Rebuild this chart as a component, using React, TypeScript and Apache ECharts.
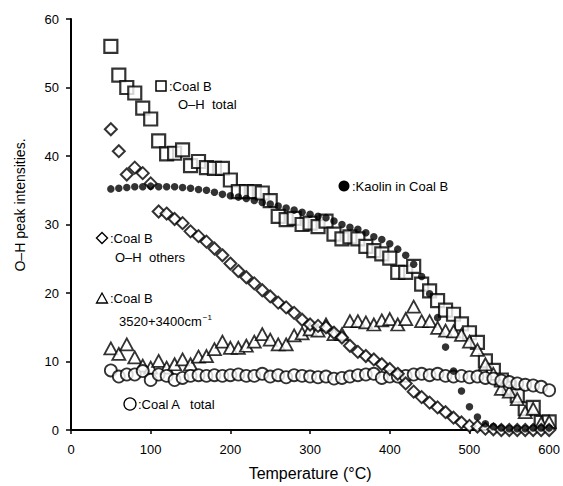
import React, { useEffect, useRef } from "react";
import * as echarts from "echarts";

const temps = [50, 60, 70, 80, 90, 100, 110, 120, 130, 140, 150, 160, 170, 180, 190, 200, 210, 220, 230, 240, 250, 260, 270, 280, 290, 300, 310, 320, 330, 340, 350, 360, 370, 380, 390, 400, 410, 420, 430, 440, 450, 460, 470, 480, 490, 500, 510, 520, 530, 540, 550, 560, 570, 580, 590, 600];

const coalBTotal = [56, 51.8, 50, 49.2, 47, 45.4, 42.2, 40.3, 40.4, 40.9, 38.6, 39.2, 38.3, 38.2, 38.2, 36.5, 34.8, 34.8, 34.8, 34.6, 33.5, 31.2, 30.7, 30.9, 30.0, 30.2, 29.7, 30.5, 28.6, 27.9, 28.2, 27.9, 26.8, 26.2, 25.7, 25.1, 23.0, 23.0, 23.9, 21.3, 20.3, 18.9, 17.5, 16.9, 15.5, 14.2, 12.8, 10.1, 8.7, 7.3, 6.1, 5.0, 3.1, 3.3, 1.1, 1.2];

const coalBOthers = [43.9, 40.7, 37.3, 38.3, 37.5, 36.0, 31.9, 31.6, 30.8, 30.2, 29.0, 28.3, 27.5, 26.5, 25.5, 24.3, 23.2, 22.3, 21.4, 20.4, 19.5, 18.6, 17.9, 17.1, 16.1, 15.4, 15.2, 15.0, 14.2, 13.5, 12.3, 11.4, 10.8, 10.3, 9.6, 8.9, 8.2, 6.8, 5.6, 4.8, 4.0, 3.3, 2.6, 1.8, 1.1, 0.6, 0.5, 0.2, 0.1, 0, 0, 0, 0, 0, 0, 0];

const coalB3520 = [11.9, 11.1, 12.5, 10.6, 9.4, 9.1, 10.1, 9.1, 9.6, 10.3, 9.6, 10.7, 10.8, 11.8, 12.9, 12.0, 12.0, 12.3, 12.9, 14.0, 13.2, 12.5, 12.5, 13.8, 14.1, 14.7, 14.5, 15.4, 14.0, 14.0, 15.9, 15.9, 15.7, 15.4, 16.0, 16.2, 15.4, 16.2, 18.0, 15.9, 15.9, 14.9, 14.5, 14.4, 13.9, 12.9, 11.7, 9.6, 8.2, 6.0, 5.6, 4.5, 2.6, 3.1, 1.0, 1.2];

const coalATotal = [8.7, 7.8, 8.1, 8.1, 8.6, 7.3, 8.1, 7.9, 7.3, 7.6, 7.9, 8.0, 7.9, 8.0, 7.9, 8.0, 8.1, 7.9, 7.9, 8.2, 7.8, 8.0, 7.7, 8.0, 7.9, 7.8, 7.7, 7.8, 7.5, 7.6, 7.8, 8.0, 8.1, 8.2, 7.6, 7.8, 7.8, 7.9, 8.1, 8.2, 8.0, 8.2, 7.9, 7.8, 7.9, 7.7, 7.8, 7.6, 7.5, 7.2, 7.0, 6.8, 6.6, 6.5, 6.3, 5.8];

const kaolin = [35.2, 35.3, 35.4, 35.5, 35.5, 35.6, 35.5, 35.5, 35.5, 35.4, 35.3, 35.1, 35.0, 34.7, 34.4, 34.2, 34.0, 33.8, 33.5, 33.2, 33.0, 32.7, 32.4, 32.1, 31.8, 31.5, 31.2, 31.0, 30.5, 30.0, 29.6, 29.3, 28.8, 28.2, 27.8, 27.2, 26.4, 25.5, 24.2, 22.4, 19.9, 16.4, 12.1, 8.6, 5.7, 3.4, 1.9, 0.9, 0.5, 0.3, 0.2, 0.2, 0.2, 0.3, 0.3, 0.3];

const xTicks = [0, 100, 200, 300, 400, 500, 600];
const yTicks = [0, 10, 20, 30, 40, 50, 60];

const FONT = "Liberation Sans";

function pairs(vals: number[]) {
  return temps.map((t, i) => [t, vals[i]]);
}

export default function App() {
  const ref = useRef<HTMLDivElement>(null);
  useEffect(() => {
    if (!ref.current) return;
    const chart = echarts.init(ref.current, undefined, { renderer: "svg" });
    const hollow = (w: number) => ({ color: "#ffffff", borderColor: "#000000", borderWidth: w });
    const txt = (x: number, y: number, text: string, extra: any = {}) => ({
      type: "text",
      x,
      y,
      style: { text, fontFamily: FONT, fontSize: 13, fill: "#000", verticalAlign: "middle", align: "left", ...extra },
    });
    chart.setOption({
      animation: false,
      backgroundColor: "#ffffff",
      grid: { left: 71, right: 11, top: 19, bottom: 55 },
      xAxis: {
        type: "value",
        min: xTicks[0],
        max: xTicks[xTicks.length - 1],
        interval: 100,
        name: "Temperature (\u00B0C)",
        nameLocation: "middle",
        nameGap: 35,
        nameTextStyle: { fontFamily: FONT, fontSize: 16, color: "#000" },
        axisLine: { lineStyle: { color: "#000", width: 2 } },
        axisTick: { show: true, length: 4, lineStyle: { color: "#000", width: 1.5 } },
        axisLabel: { fontFamily: FONT, fontSize: 13, color: "#000", margin: 13 },
        splitLine: { show: false },
      },
      yAxis: {
        type: "value",
        min: yTicks[0],
        max: yTicks[yTicks.length - 1],
        interval: 10,
        axisLine: { show: true, lineStyle: { color: "#000", width: 2 } },
        axisTick: { show: true, length: 5, lineStyle: { color: "#000", width: 1.5 } },
        axisLabel: { fontFamily: FONT, fontSize: 13, color: "#000", margin: 12 },
        splitLine: { show: false },
      },
      series: [
        { type: "scatter", name: "Coal B O-H total", symbol: "rect", symbolSize: 13, data: pairs(coalBTotal), itemStyle: hollow(2.2), z: 2 },
        { type: "scatter", name: "Coal B 3520+3400", symbol: "triangle", symbolSize: [13, 12], data: pairs(coalB3520), itemStyle: hollow(1.8), z: 3 },
        { type: "scatter", name: "Coal A total", symbol: "circle", symbolSize: 12, data: pairs(coalATotal), itemStyle: hollow(1.8), z: 4 },
        { type: "scatter", name: "Coal B O-H others", symbol: "diamond", symbolSize: 12, data: pairs(coalBOthers), itemStyle: hollow(2), z: 5 },
        { type: "scatter", name: "Kaolin in Coal B", symbol: "circle", symbolSize: 7.5, data: pairs(kaolin), itemStyle: { color: "#000" }, z: 6 },
      ],
      graphic: [
        { type: "text", x: 20, y: 205, rotation: Math.PI / 2, style: { text: "O\u2013H peak intensities.", fontFamily: FONT, fontSize: 14, fill: "#000", align: "center", verticalAlign: "middle" } },
        { type: "rect", shape: { x: 156, y: 81, width: 10, height: 10 }, style: { fill: "#fff", stroke: "#000", lineWidth: 1.5 } },
        txt(169, 86, ":Coal B"),
        txt(178, 104, "O\u2013H  total"),
        { type: "circle", shape: { cx: 344, cy: 186, r: 5.5 }, style: { fill: "#000" } },
        txt(352, 186, ":Kaolin in Coal B"),
        { type: "polygon", shape: { points: [[102, 232.5], [107.5, 238], [102, 243.5], [96.5, 238]] }, style: { fill: "#fff", stroke: "#000", lineWidth: 1.4 } },
        txt(110, 238, ":Coal B"),
        txt(115, 257, "O\u2013H  others"),
        { type: "polygon", shape: { points: [[102, 293], [107.5, 303], [96.5, 303]] }, style: { fill: "#fff", stroke: "#000", lineWidth: 1.3 } },
        txt(110, 298, ":Coal B"),
        {
          type: "text",
          x: 119,
          y: 321,
          style: {
            text: "{a|3520+3400cm}{b|\u22121}",
            fontFamily: FONT,
            verticalAlign: "middle",
            rich: {
              a: { fontFamily: FONT, fontSize: 13, color: "#000" },
              b: { fontFamily: FONT, fontSize: 8, color: "#000", verticalAlign: "top", padding: [0, 0, 8, 1] },
            },
          },
        },
        { type: "circle", shape: { cx: 130, cy: 404, r: 6 }, style: { fill: "#fff", stroke: "#000", lineWidth: 1.3 } },
        txt(138, 404, ":Coal A   total"),
      ],
    });
    return () => chart.dispose();
  }, []);
  return <div ref={ref} style={{ position: "fixed", left: 0, top: 0, width: 563, height: 486 }} />;
}
